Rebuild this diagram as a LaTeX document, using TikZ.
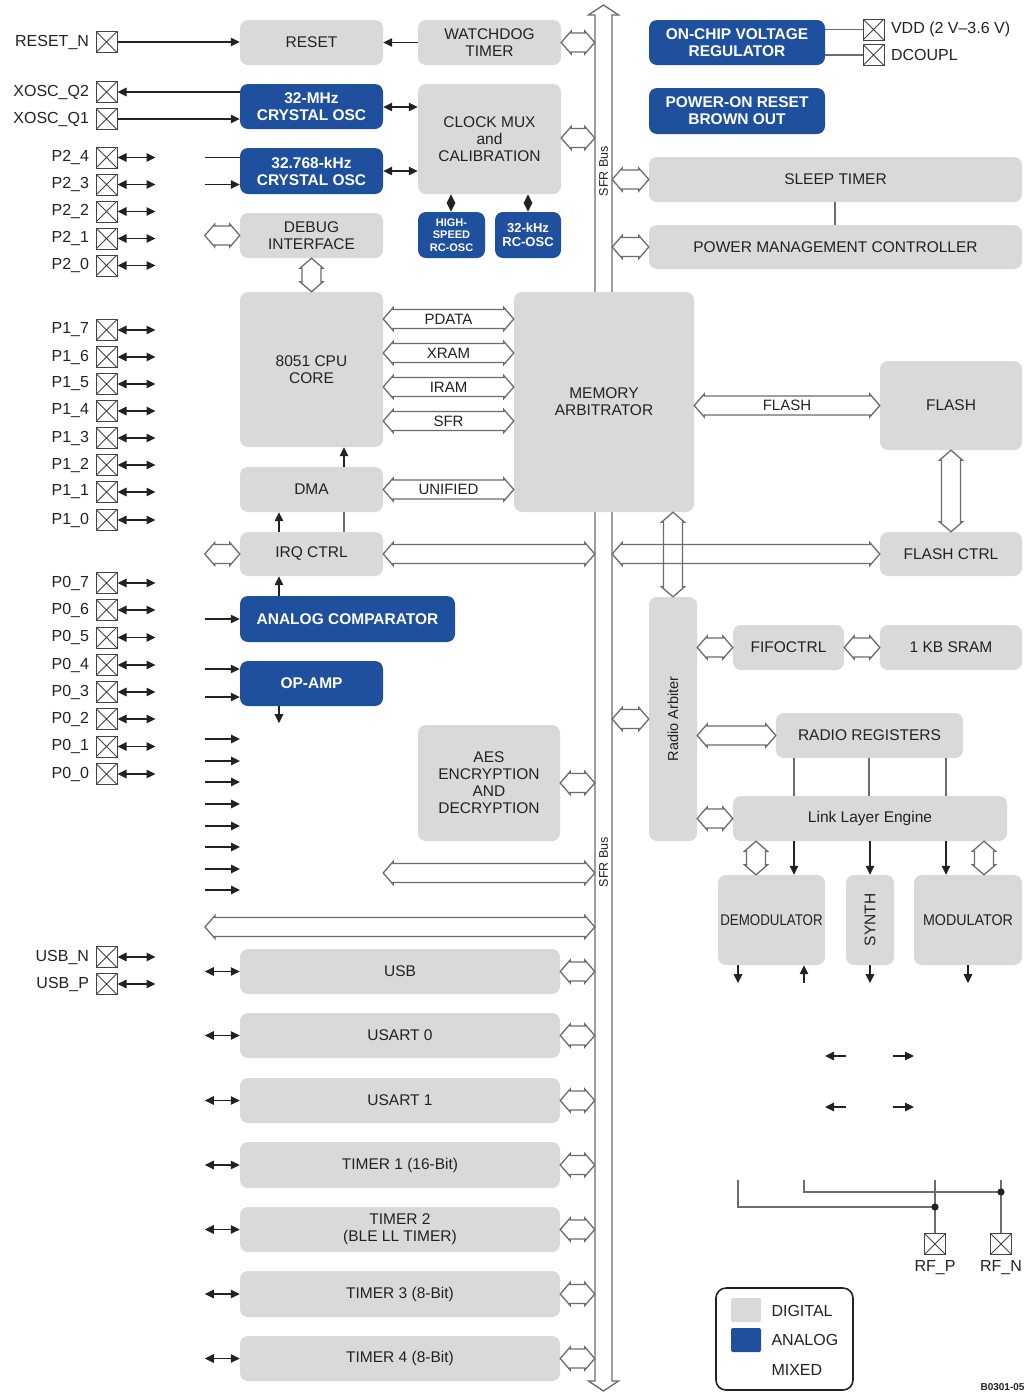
\documentclass[tikz,border=0pt]{standalone}
\usepackage{fontspec}
\usepackage{graphicx}
\setmainfont{Liberation Sans}
\usetikzlibrary{arrows.meta,calc}

\definecolor{digfill}{RGB}{217,217,219}
\definecolor{anafill}{RGB}{31,80,158}
\definecolor{wire}{RGB}{108,108,108}
\definecolor{ink}{RGB}{34,34,34}

% horizontal hollow bus arrow, heads at both ends (left point, right point)
\newcommand\hbus[2]{%
  \draw[hollow] let \p1=(#1), \p2=(#2) in
    (\x1,\y1) -- (\x1+10pt,\y1+11.5pt) -- (\x1+10pt,\y1+9.5pt) -- (\x2-10pt,\y1+9.5pt)
    -- (\x2-10pt,\y1+11.5pt) -- (\x2,\y1) -- (\x2-10pt,\y1-11.5pt) -- (\x2-10pt,\y1-9.5pt)
    -- (\x1+10pt,\y1-9.5pt) -- (\x1+10pt,\y1-11.5pt) -- cycle;}
% vertical hollow bus arrow, heads at both ends (top point, bottom point)
\newcommand\vbus[2]{%
  \draw[hollow] let \p1=(#1), \p2=(#2) in
    (\x1,\y1) -- (\x1-11.5pt,\y1-10pt) -- (\x1-9.5pt,\y1-10pt) -- (\x1-9.5pt,\y2+10pt)
    -- (\x1-11.5pt,\y2+10pt) -- (\x1,\y2) -- (\x1+11.5pt,\y2+10pt) -- (\x1+9.5pt,\y2+10pt)
    -- (\x1+9.5pt,\y1-10pt) -- (\x1+11.5pt,\y1-10pt) -- cycle;}
% labelled horizontal bus arrow
\newcommand\hbuslab[4]{\hbus{#1}{#2}\path (#1) -- (#2) node[midway, buslbl] (#3) {#4};}
% block given by its left, top, right and bottom edges
\newcommand\blk[7][digi]{\node[#1, minimum width={(#5-#3)*1pt}, minimum height={(#6-#4)*1pt}]
  (#2) at ({(#3+#5)/2},{(#4+#6)/2}) {#7};}
% pad in the left pin column, with its bidirectional port arrow
\newcommand\padL[3]{\node[pad, label={[lbl, label distance=3pt]left:#3}] (#1) at (106.5,#2) {};}
\newcommand\padIO[3]{\padL{#1}{#2}{#3}\draw[bidir] (#1.east) -- ++(38,0);}

\begin{document}
\begin{tikzpicture}[x=1pt, y=-1pt,
  every node/.style={text=ink},
  digi/.style={fill=digfill, rounded corners=8pt, inner sep=0pt, align=center,
    font=\fontsize{15.5}{17}\selectfont},
  anlg/.style={fill=anafill, rounded corners=8pt, inner sep=0pt, align=center,
    text=white, font=\fontsize{15.5}{17}\selectfont\bfseries},
  anlgsm/.style={anlg, font=\fontsize{11}{12.5}\selectfont\bfseries},
  anlgmd/.style={anlg, font=\fontsize{13}{14}\selectfont\bfseries},
  frame/.style={draw=ink, line width=1.6pt, rounded corners=10pt, inner sep=0pt},
  swatch/.style={inner sep=0pt, rounded corners=2pt},
  lbl/.style={font=\fontsize{16}{17}\selectfont},
  buslbl/.style={font=\fontsize{15}{16}\selectfont, inner sep=0pt},
  pad/.style={draw=ink!85, line width=1pt, minimum size=21pt, inner sep=0pt,
    path picture={\draw[ink!85, line width=0.8pt]
      (path picture bounding box.north west) -- (path picture bounding box.south east)
      (path picture bounding box.south west) -- (path picture bounding box.north east);}},
  sig/.style={draw=ink, line width=1.3pt, -{Triangle[length=9pt,width=8.5pt]}},
  bidir/.style={draw=ink, line width=1.3pt,
    {Triangle[length=9pt,width=8.5pt]}-{Triangle[length=9pt,width=8.5pt]}},
  plain/.style={draw=wire, line width=1.2pt},
  hollow/.style={draw=wire, line width=1.3pt, line join=miter},
]
\fill[white] (0,0) rectangle (1033,1393);
\useasboundingbox (0,0) rectangle (1033,1393);

% ---------- SFR bus ----------
\node[inner sep=0pt, minimum width=17pt, minimum height=1366pt] (sfr) at (603.5,698) {};
\draw[hollow] (603.5,5) -- (588.5,15) -- (595,15) -- (595,1381) -- (588.5,1381)
  -- (603.5,1391) -- (618.5,1381) -- (612,1381) -- (612,15) -- (618.5,15) -- cycle;
\node[rotate=90, font=\fontsize{12.5}{13}\selectfont, inner sep=0pt] (sfrtxt1) at (603.5,171) {SFR Bus};
\node[rotate=90, font=\fontsize{12.5}{13}\selectfont, inner sep=0pt] (sfrtxt2) at (603.5,862) {SFR Bus};

% ---------- blocks ----------
\blk{reset}{240}{20}{383}{65}{RESET}
\blk{wd}{418}{20}{561}{65}{WATCHDOG\\TIMER}
\blk[anlg]{osc32m}{240}{84}{383}{129}{32-MHz\\CRYSTAL OSC}
\blk{clk}{418}{84}{561}{194}{CLOCK MUX\\and\\CALIBRATION}
\blk[anlg]{osc32k}{240}{148}{383}{194}{32.768-kHz\\CRYSTAL OSC}
\blk{dbg}{240}{213}{383}{258}{DEBUG\\INTERFACE}
\blk[anlgsm]{hsrc}{418}{212}{485}{258}{HIGH-\\SPEED\\RC-OSC}
\blk[anlgmd]{rc32}{495}{212}{561}{258}{32-kHz\\RC-OSC}
\blk[anlg]{reg}{649}{20}{825}{65}{ON-CHIP VOLTAGE\\REGULATOR}
\blk[anlg]{por}{649}{88}{825}{134}{POWER-ON RESET\\BROWN OUT}
\blk{sleep}{649}{157}{1022}{202}{SLEEP TIMER}
\blk{pmc}{649}{225}{1022}{269}{POWER MANAGEMENT CONTROLLER}
\blk{cpu}{240}{292}{383}{447}{8051 CPU\\CORE}
\blk{mem}{514}{292}{694}{512}{MEMORY\\ARBITRATOR}
\blk{flash}{880}{361}{1022}{450}{FLASH}
\blk{dma}{240}{467}{383}{512}{DMA}
\blk{irq}{240}{532}{383}{576}{IRQ CTRL}
\blk{fctrl}{880}{532}{1022}{576}{FLASH CTRL}
\blk[anlg]{comp}{240}{596}{455}{642}{ANALOG COMPARATOR}
\blk{ra}{649}{597}{697}{841}{\rotatebox{90}{\fontsize{14.5}{15}\selectfont Radio Arbiter}}
\blk{fifo}{733}{625}{844}{670}{FIFOCTRL}
\blk{sram}{880}{625}{1022}{670}{1 KB SRAM}
\blk[anlg]{opamp}{240}{661}{383}{706}{OP-AMP}
\blk{rreg}{776}{713}{963}{758}{RADIO REGISTERS}
\blk{aes}{418}{725}{560}{841}{AES\\ENCRYPTION\\AND\\DECRYPTION}
\blk{lle}{733}{796}{1007}{841}{Link Layer Engine}
\blk{demod}{718}{875}{825}{965}{\scalebox{0.86}[1]{DEMODULATOR}}
\blk{synth}{846}{875}{894}{965}{\rotatebox{90}{SYNTH}}
\blk{mod}{914}{875}{1022}{965}{\scalebox{0.92}[1]{MODULATOR}}
\blk{usb}{240}{949}{560}{994}{USB}
\blk{usart0}{240}{1013}{560}{1058}{USART 0}
\blk{usart1}{240}{1078}{560}{1123}{USART 1}
\blk{tmr1}{240}{1142}{560}{1188}{TIMER 1 (16-Bit)}
\blk{tmr2}{240}{1207}{560}{1252}{TIMER 2\\(BLE LL TIMER)}
\blk{tmr3}{240}{1271}{560}{1317}{TIMER 3 (8-Bit)}
\blk{tmr4}{240}{1336}{560}{1381}{TIMER 4 (8-Bit)}

% ---------- pads, left column ----------
\padL{rstn}{42}{RESET\_N}
\padL{xq2}{92}{XOSC\_Q2}
\padL{xq1}{119}{XOSC\_Q1}
\padIO{p24}{157.5}{P2\_4}
\padIO{p23}{184.5}{P2\_3}
\padIO{p22}{211.5}{P2\_2}
\padIO{p21}{238.5}{P2\_1}
\padIO{p20}{265.5}{P2\_0}
\padIO{p17}{330}{P1\_7}
\padIO{p16}{357}{P1\_6}
\padIO{p15}{384}{P1\_5}
\padIO{p14}{411}{P1\_4}
\padIO{p13}{438}{P1\_3}
\padIO{p12}{465}{P1\_2}
\padIO{p11}{492}{P1\_1}
\padIO{p10}{520}{P1\_0}
\padIO{p07}{583}{P0\_7}
\padIO{p06}{610}{P0\_6}
\padIO{p05}{637.5}{P0\_5}
\padIO{p04}{665}{P0\_4}
\padIO{p03}{692}{P0\_3}
\padIO{p02}{719}{P0\_2}
\padIO{p01}{746.5}{P0\_1}
\padIO{p00}{774}{P0\_0}
\padIO{usbn}{957}{USB\_N}
\padIO{usbp}{984}{USB\_P}

% supply and RF pads
\node[pad, label={[lbl, label distance=3pt]right:VDD (2 V–3.6 V)}] (vdd) at (873.5,29.5) {};
\node[pad, label={[lbl, label distance=3pt]right:DCOUPL}] (dcoupl) at (873.5,55) {};
\node[pad, label={[lbl, label distance=2pt]below:RF\_P}] (rfp) at (935,1244) {};
\node[pad, label={[lbl, label distance=2pt]below:RF\_N}] (rfn) at (1001,1244) {};

% ---------- signal connections ----------
\draw[sig] (rstn.east) -- (rstn.east -| reset.west);
\draw[sig] (wd.west) -- (reset.east);
\draw[sig] (osc32m.west |- xq2.east) -- (xq2.east);
\draw[sig] (xq1.east) -- (xq1.east -| osc32m.west);
\draw[draw=ink, line width=1.2pt] ($(osc32k.west |- p24)+(-35,0)$) -- (osc32k.west |- p24);
\draw[sig] ($(osc32k.west |- p23)+(-35,0)$) -- (osc32k.west |- p23);
\draw[bidir] (osc32m.east |- 0,107) -- (clk.west |- 0,107);
\draw[bidir] (osc32k.east |- 0,171) -- (clk.west |- 0,171);
\draw[bidir] (clk.south -| 451,0) -- (hsrc.north -| 451,0);
\draw[bidir] (clk.south -| 528,0) -- (rc32.north -| 528,0);

\draw[plain] (reg.east |- vdd.west) -- (vdd.west);
\draw[plain] (reg.east |- dcoupl.west) -- (dcoupl.west);
\draw[plain] (sleep.south -| 835,0) -- (pmc.north -| 835,0);

\draw[sig] (dma.north -| 344,0) -- (cpu.south -| 344,0);
\draw[sig] (irq.north -| 279,0) -- (dma.south -| 279,0);
\draw[plain] (irq.north -| 344,0) -- (dma.south -| 344,0);
\draw[sig] (comp.north -| 279,0) -- (irq.south -| 279,0);
\draw[sig] ($(comp.west)+(-35,0)$) -- (comp.west);
\draw[sig] ($(opamp.west |- 0,669)+(-35,0)$) -- (opamp.west |- 0,669);
\draw[sig] ($(opamp.west |- 0,697)+(-35,0)$) -- (opamp.west |- 0,697);
\draw[sig] (opamp.south -| 279,0) -- ++(0,17);
\foreach \yy in {739,761,782,804,826,847,869,890}
  \draw[sig] (205,\yy) -- (240,\yy);

\foreach \b in {usb,usart0,usart1,tmr1,tmr2,tmr3,tmr4}
  \draw[bidir] (\b.west) -- ++(-35,0);

% radio section
\foreach \xx in {794,869,946}
  \draw[plain] (rreg.south -| \xx,0) -- (lle.north -| \xx,0);
\draw[sig] (lle.south -| 794,0) -- (demod.north -| 794,0);
\draw[sig] (lle.south -| synth.north) -- (synth.north);
\draw[sig] (lle.south -| 946,0) -- (mod.north -| 946,0);
\draw[sig] (demod.south -| 738,0) -- ++(0,18);
\draw[sig] ($(demod.south -| 804,0)+(0,18)$) -- (demod.south -| 804,0);
\draw[sig] (synth.south) -- ++(0,18);
\draw[sig] (mod.south -| 968,0) -- ++(0,18);

\draw[sig] (846,1056) -- (825,1056);
\draw[sig] (893,1056) -- (914,1056);
\draw[sig] (846,1107) -- (825,1107);
\draw[sig] (893,1107) -- (914,1107);

\draw[plain] (738,1180) |- (rfp.north |- 0,1207);
\draw[plain] (804,1180) |- (rfn.north |- 0,1192);
\draw[plain] (rfp.north |- 0,1180) -- (rfp.north);
\draw[plain] (rfn.north |- 0,1180) -- (rfn.north);
\fill[ink] (rfp.north |- 0,1207) circle (3.6pt);
\fill[ink] (rfn.north |- 0,1192) circle (3.6pt);

% ---------- hollow bus connectors ----------
\hbus{wd.east}{wd.east -| sfr.west}
\hbus{clk.east |- 0,138}{sfr.west |- 0,138}
\hbus{sfr.east |- sleep.west}{sleep.west}
\hbus{sfr.east |- pmc.west}{pmc.west}
\hbus{$(dbg.west)+(-35,0)$}{dbg.west}
\vbus{dbg.south}{cpu.north}
\hbuslab{cpu.east |- 0,319}{mem.west |- 0,319}{lpdata}{PDATA}
\hbuslab{cpu.east |- 0,353}{mem.west |- 0,353}{lxram}{XRAM}
\hbuslab{cpu.east |- 0,387}{mem.west |- 0,387}{liram}{IRAM}
\hbuslab{cpu.east |- 0,421}{mem.west |- 0,421}{lsfr}{SFR}
\hbuslab{dma.east}{dma.east -| mem.west}{lunified}{UNIFIED}
\hbuslab{mem.east |- flash.west}{flash.west}{lflash}{FLASH}
\vbus{flash.south}{fctrl.north}
\hbus{$(irq.west)+(-35,0)$}{irq.west}
\hbus{irq.east}{irq.east -| sfr.west}
\hbus{sfr.east |- fctrl.west}{fctrl.west}
\vbus{ra.north |- mem.south}{ra.north}
\hbus{sfr.east |- ra.west}{ra.west}
\hbus{ra.east |- fifo.west}{fifo.west}
\hbus{fifo.east}{sram.west}
\hbus{ra.east |- rreg.west}{rreg.west}
\hbus{ra.east |- lle.west}{lle.west}
\vbus{lle.south -| 756,0}{demod.north -| 756,0}
\vbus{lle.south -| 984,0}{mod.north -| 984,0}
\hbus{aes.east |- 0,783}{sfr.west |- 0,783}
\hbus{cpu.east |- 0,873}{sfr.west |- 0,873}
\hbus{205,927}{sfr.west |- 0,927}
\foreach \b in {usb,usart0,usart1,tmr1,tmr2,tmr3,tmr4}
  {\hbus{\b.east}{\b.east -| sfr.west}}

% ---------- legend ----------
\blk[frame]{legend}{716}{1288}{853}{1390}{}
\blk[swatch, fill=digfill]{keyd}{731}{1298}{761}{1322}{}
\blk[swatch, fill=anafill]{keya}{731}{1328}{761}{1352}{}
\node[lbl, anchor=west] (keydt) at (768,1311) {DIGITAL};
\node[lbl, anchor=west] (keyat) at (768,1340) {ANALOG};
\node[lbl, anchor=west] (keymt) at (768,1370) {MIXED};
\node[anchor=west, font=\fontsize{10}{11}\selectfont\bfseries] (figno) at (977,1387) {B0301-05};
\end{tikzpicture}
\end{document}
